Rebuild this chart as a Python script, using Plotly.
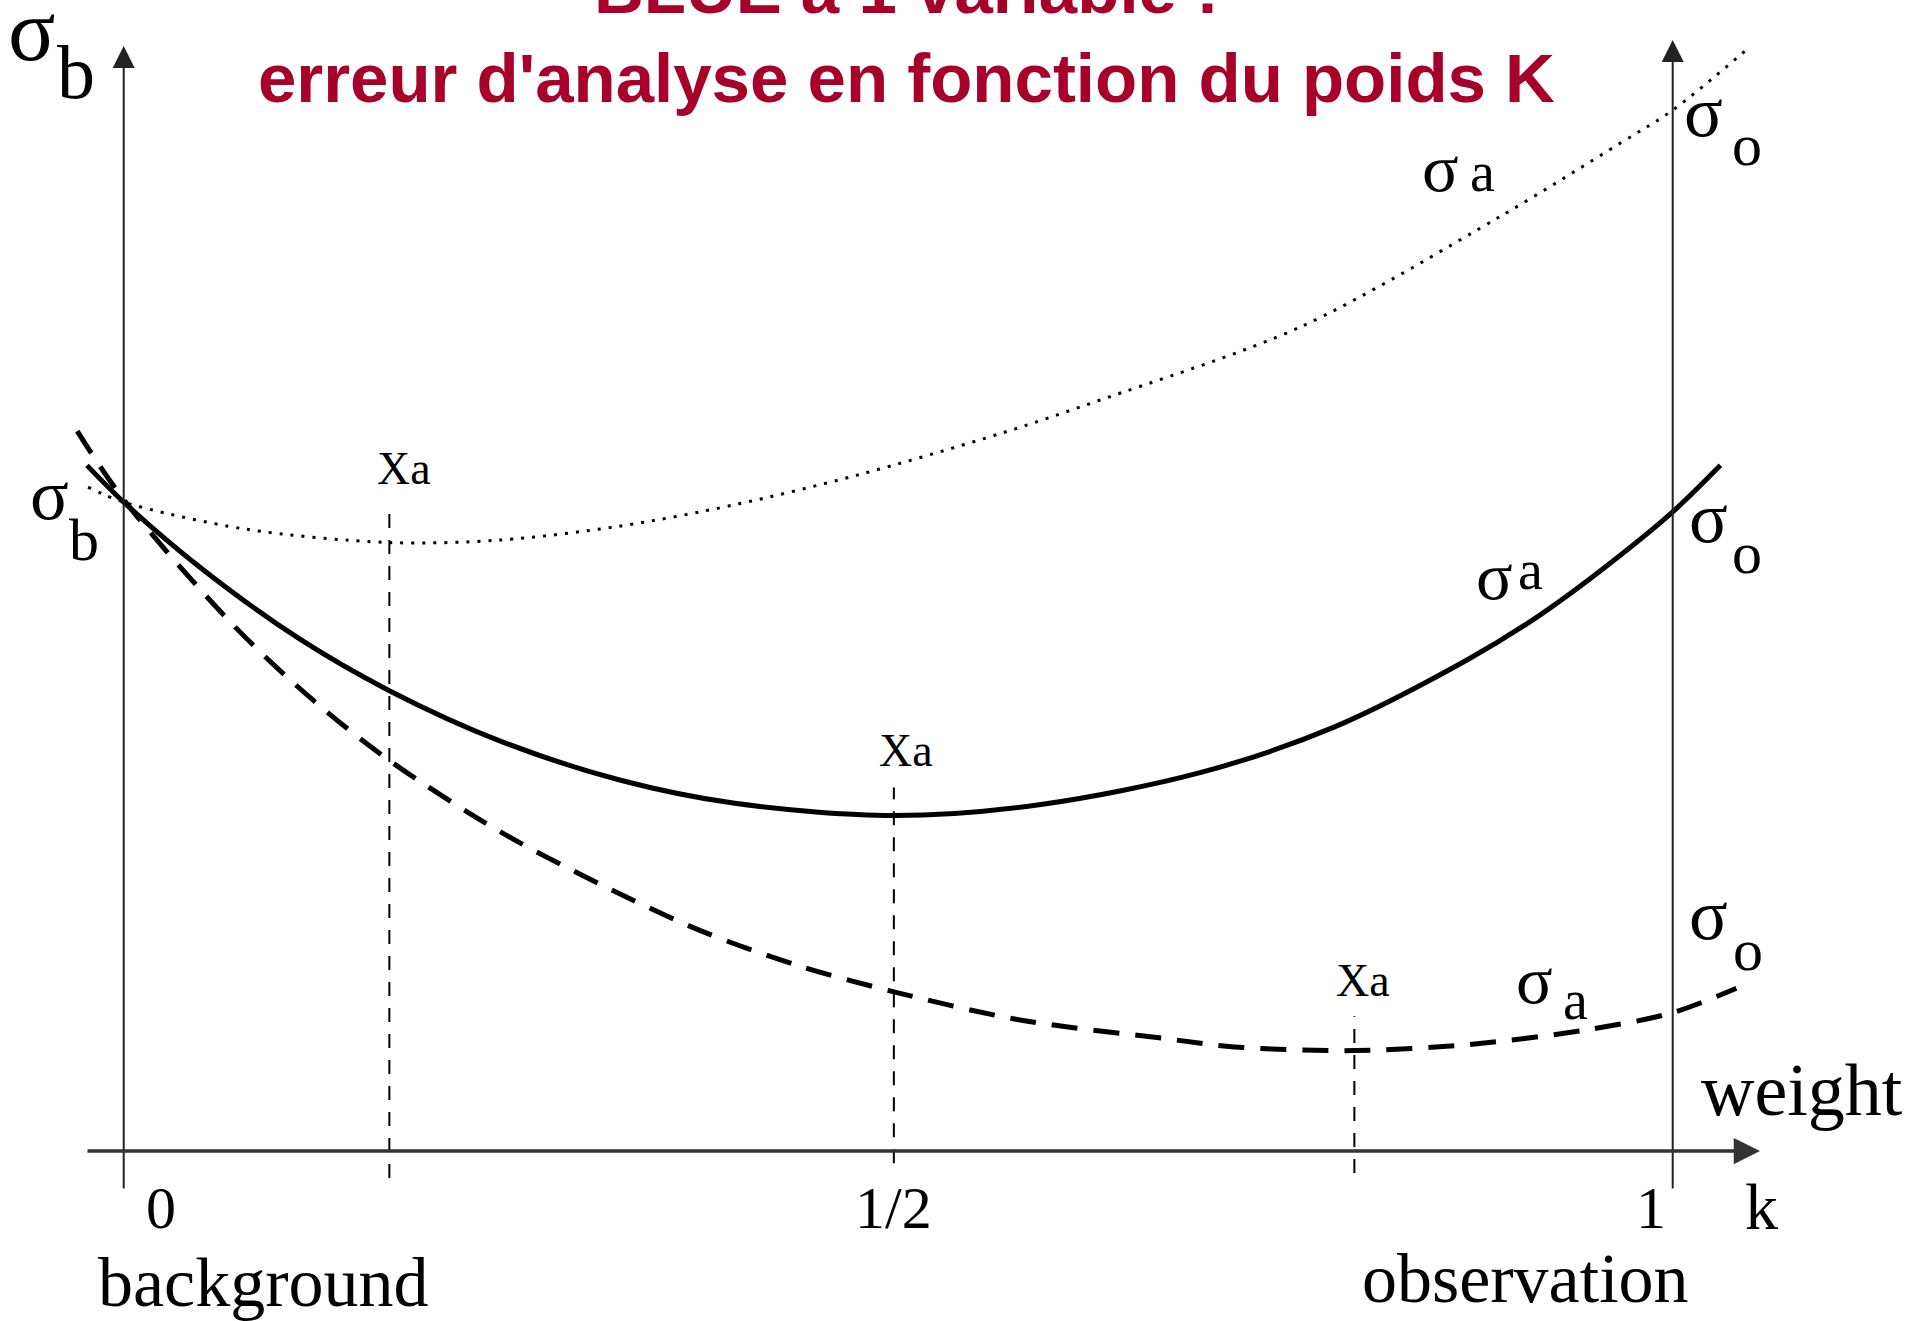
import plotly.graph_objects as go

# ---------------- data (k = weight, values in units of sigma_b) ----------------
k_solid = [-0.0237, 0.0, 0.049, 0.1138, 0.1715, 0.2427, 0.3202, 0.3945, 0.4972, 0.5921,
           0.6949, 0.781, 0.8672, 0.9099, 0.9534, 1.0, 1.0308]
sa_solid = [1.0566, 1.0, 0.900, 0.7887, 0.7094, 0.6321, 0.5717, 0.5358, 0.517, 0.534,
            0.583, 0.6528, 0.7566, 0.8189, 0.8943, 0.9849, 1.0566]

k_dashed = [-0.030, 0.0, 0.0704, 0.1225, 0.1715, 0.2427, 0.3075, 0.3723, 0.4340, 0.4972,
            0.5787, 0.6711, 0.7170, 0.7945, 0.8688, 0.9447, 1.0, 1.0411]
sa_dashed = [1.1094, 1.0038, 0.8113, 0.6943, 0.6019, 0.4925, 0.4113, 0.3396, 0.2868, 0.2453,
             0.2019, 0.1736, 0.1604, 0.1547, 0.1642, 0.1868, 0.2132, 0.2509]

k_dotted = [-0.023, 0.0, 0.0783, 0.1715, 0.2427, 0.3186, 0.3945, 0.4735, 0.566, 0.630,
            0.7597, 0.8885, 0.966, 1.0, 1.048]
sa_dotted = [1.023, 1.0, 0.9585, 0.9377, 0.9415, 0.9623, 0.996, 1.0415, 1.1057, 1.157,
             1.270, 1.440, 1.553, 1.604, 1.698]

# optimal weights (Xa) and the extent of their vertical markers
xa_k = [0.1715, 0.4972, 0.7945]
xa_top = [1.0, 0.56, 0.2075]
xa_bottom = [-0.0415, -0.019, -0.034]

tick_k = [0.0, 0.4972, 1.0]
tick_labels = ["0", "1/2", "1"]

# ---------------- pixel <-> data helpers for layout ----------------
W, H = 1920, 1321
PX0, PX_PER_K = 123.7, 1549.0       # k=0 at px 123.7
PY0, PY_PER_V = 1151.0, 648.9       # value 0 at py 1151


def X(px):
    return (px - PX0) / PX_PER_K


def Y(py):
    return (PY0 - py) / PY_PER_V


fig = go.Figure()

# curves
fig.add_trace(go.Scatter(x=k_dotted, y=sa_dotted, mode="lines", line_shape="spline",
                         line=dict(color="black", width=3, dash="3px,8px", smoothing=0.9)))
fig.add_trace(go.Scatter(x=k_solid, y=sa_solid, mode="lines", line_shape="spline",
                         line=dict(color="black", width=5, smoothing=0.9)))
fig.add_trace(go.Scatter(x=k_dashed, y=sa_dashed, mode="lines", line_shape="spline",
                         line=dict(color="black", width=5, dash="26px,16px", smoothing=0.9)))

# Xa vertical markers
for xk, yt, yb in zip(xa_k, xa_top, xa_bottom):
    fig.add_trace(go.Scatter(x=[xk, xk], y=[yb, yt], mode="lines",
                             line=dict(color="black", width=2, dash="14px,12px")))

annotations = []

# axes with arrows
axis_col = "#222"
annotations.append(dict(x=0.0, y=Y(46), ax=0.0, ay=Y(1190), xref="x", yref="y", axref="x", ayref="y",
                        showarrow=True, arrowhead=2, arrowsize=2.2, arrowwidth=2, arrowcolor=axis_col,
                        text="", standoff=0))
annotations.append(dict(x=1.0, y=Y(40), ax=1.0, ay=Y(1190), xref="x", yref="y", axref="x", ayref="y",
                        showarrow=True, arrowhead=2, arrowsize=2.2, arrowwidth=2, arrowcolor=axis_col,
                        text="", standoff=0))
annotations.append(dict(x=X(1760), y=0.0, ax=X(86), ay=0.0, xref="x", yref="y", axref="x", ayref="y",
                        showarrow=True, arrowhead=2, arrowsize=1.5, arrowwidth=3.5, arrowcolor="#333",
                        text="", standoff=0))

serif = "Liberation Serif, Times New Roman, serif"


def label(px, py, text, size, anchor="center"):
    annotations.append(dict(x=X(px), y=Y(py), xref="x", yref="y", text=text, showarrow=False,
                            xanchor=anchor, yanchor="middle",
                            font=dict(family=serif, size=size, color="black")))


# sigma_b top-left
label(31, 30, "σ", 88)
label(76, 72, "b", 76)
# sigma_b at left
label(49, 495, "σ", 72)
label(84, 540, "b", 60)
# sigma_o labels
label(1703, 112, "σ", 72)
label(1747, 145, "o", 60)
label(1708, 518, "σ", 72)
label(1747, 553, "o", 60)
label(1708, 915, "σ", 72)
label(1748, 950, "o", 60)
# sigma_a labels
label(1440, 168, "σ", 68)
label(1482, 172, "a", 56)
label(1494, 576, "σ", 68)
label(1530, 570, "a", 56)
label(1534, 980, "σ", 68)
label(1575, 1000, "a", 56)
# Xa labels
label(404, 468, "Xa", 46)
label(906, 750, "Xa", 46)
label(1363, 980, "Xa", 46)
# k axis
for tk, tl in zip(tick_k, tick_labels):
    label(PX0 + PX_PER_K * tk + (37 if tl == "0" else (-22 if tl == "1" else 0)), 1208, tl, 60)
label(1761, 1206, "k", 66)
label(1802, 1090, "weight", 74)
label(263, 1282, "background", 70)
label(1525, 1278, "observation", 70)

# title
title_col = "#A6002B"
annotations.append(dict(x=X(906), y=Y(30), xref="x", yref="y", text="<b>BLUE à 1 variable :</b>",
                        showarrow=False, xanchor="center", yanchor="bottom",
                        font=dict(family="Liberation Sans, Arial, sans-serif", size=69, color=title_col)))
annotations.append(dict(x=X(906), y=Y(78), xref="x", yref="y", text="<b>erreur d'analyse en fonction du poids K</b>",
                        showarrow=False, xanchor="center", yanchor="middle",
                        font=dict(family="Liberation Sans, Arial, sans-serif", size=69, color=title_col)))

fig.update_layout(
    width=W, height=H,
    margin=dict(l=0, r=0, t=0, b=0),
    paper_bgcolor="white", plot_bgcolor="white",
    showlegend=False,
    xaxis=dict(range=[X(0), X(W)], visible=False, fixedrange=True),
    yaxis=dict(range=[Y(H), Y(0)], visible=False, fixedrange=True),
    annotations=annotations,
)

fig.write_html("out.html", config={"displayModeBar": False},
               post_script="document.body.style.margin='0';document.body.style.overflow='hidden';")
